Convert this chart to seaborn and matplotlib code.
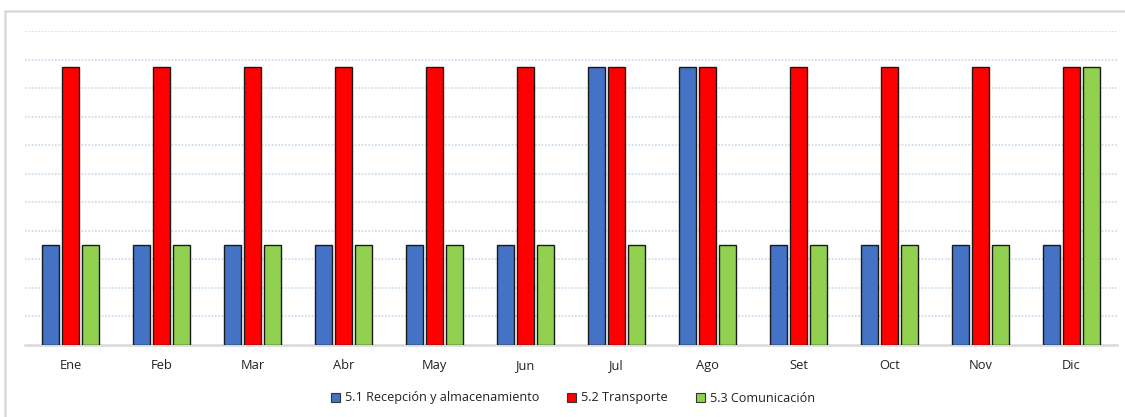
import matplotlib
matplotlib.use("Agg")
import matplotlib.pyplot as plt
from matplotlib.patches import Rectangle, Patch
import seaborn as sns
import pandas as pd

meses = ["Ene", "Feb", "Mar", "Abr", "May", "Jun", "Jul", "Ago", "Set", "Oct", "Nov", "Dic"]
recepcion = [3.5, 3.5, 3.5, 3.5, 3.5, 3.5, 9.75, 9.75, 3.5, 3.5, 3.5, 3.5]
transporte = [9.75] * 12
comunicacion = [3.5, 3.5, 3.5, 3.5, 3.5, 3.5, 3.5, 3.5, 3.5, 3.5, 3.5, 9.75]
series = ["5.1 Recepción y almacenamiento", "5.2 Transporte", "5.3 Comunicación"]
colores = ["#4472C4", "#FF0000", "#92D050"]

df = pd.DataFrame({
    "mes": meses * 3,
    "valor": recepcion + transporte + comunicacion,
    "serie": [series[0]] * 12 + [series[1]] * 12 + [series[2]] * 12,
})

sns.set_theme(style="white")
plt.rcParams["font.family"] = ["Open Sans", "DejaVu Sans"]

fig = plt.figure(figsize=(11.25, 4.17), dpi=100)
W, H = 1125, 417
ax = fig.add_axes([25 / W, (H - 345) / H, (1117 - 25) / W, (345 - 31) / H])

sns.barplot(data=df, x="mes", y="valor", hue="serie", order=meses, hue_order=series,
            palette=colores, width=0.66, gap=0.18, edgecolor="#1a1a1a", linewidth=1.0,
            saturation=1, legend=False, ax=ax, zorder=3)

ax.set_ylim(0, 11)
ax.set_xlim(-0.5, len(meses) - 0.5)
ax.set_yticks(range(1, 12))
ax.set_yticklabels([])
ax.yaxis.grid(True, color="#C5DBF0", linestyle=(0, (1, 1)), linewidth=1.2, zorder=0)
ax.xaxis.grid(False)
ax.tick_params(axis="y", length=0)
ax.tick_params(axis="x", length=0, pad=10, labelsize=9.3, labelcolor="#222222")
ax.set_xlabel("")
ax.set_ylabel("")
for side in ["top", "left", "right"]:
    ax.spines[side].set_visible(False)
ax.spines["bottom"].set_color("#D9D9D9")
ax.spines["bottom"].set_linewidth(1.8)

handles = [Patch(facecolor=c, edgecolor="#333333", linewidth=0.8) for c in colores]
fig.legend(handles, series, loc="center", bbox_to_anchor=(573 / W, (H - 398) / H),
           ncol=3, frameon=False, fontsize=9.1, handlelength=0.7, handleheight=0.7,
           handletextpad=0.4, columnspacing=2.2, labelcolor="#222222")

fig.patches.append(Rectangle((5 / W, -0.05), 1.2, (H - 11) / H + 0.05,
                             transform=fig.transFigure, fill=False,
                             edgecolor="#D9D9D9", linewidth=1.8, zorder=0))

fig.savefig("out.png", dpi=100, facecolor="white")
